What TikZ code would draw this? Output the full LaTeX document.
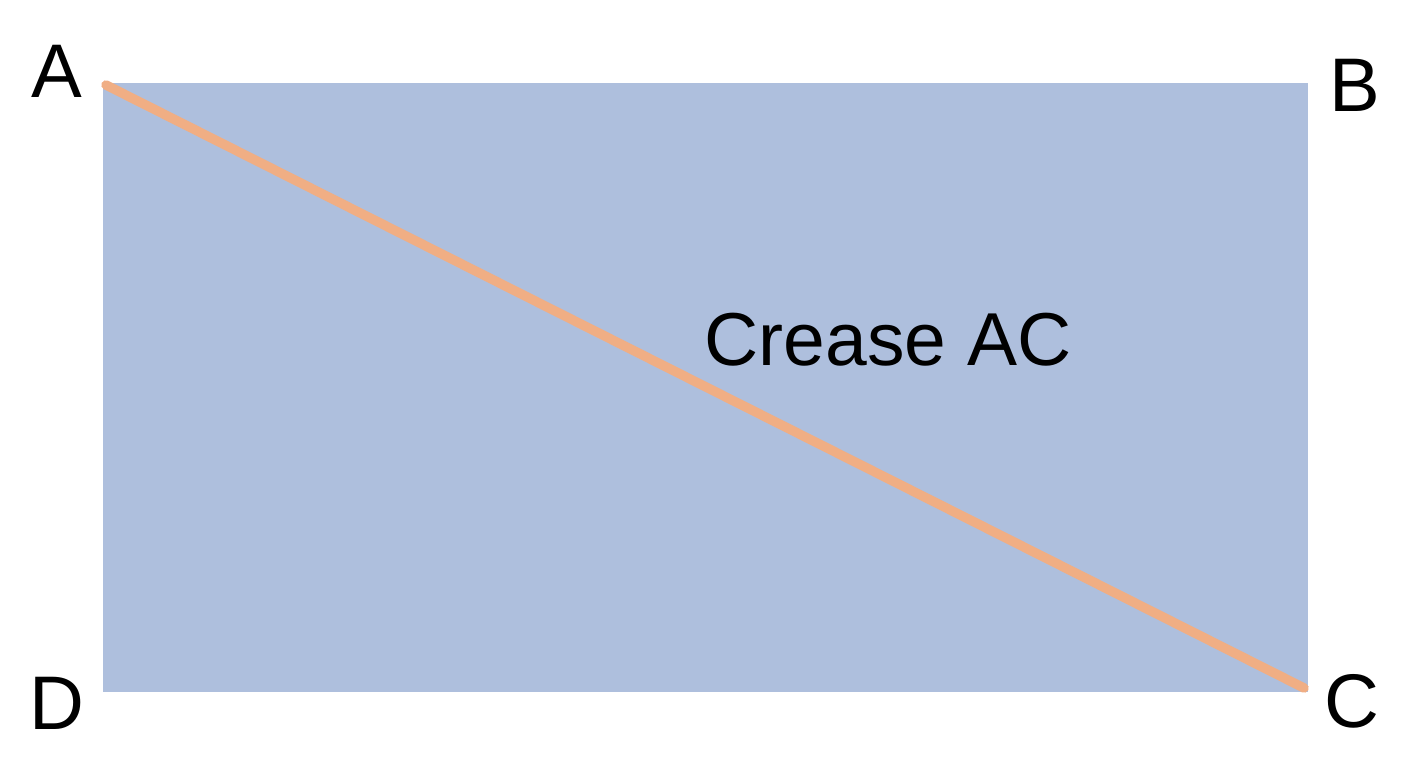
\documentclass[tikz,border=0pt]{standalone}
\usepackage{fontspec}
\setmainfont{Liberation Sans}
\definecolor{paper}{HTML}{AEBFDD}
\definecolor{crease}{HTML}{F0AE84}
\begin{document}
\begin{tikzpicture}[x=1pt,y=-1pt,
  lbl/.style={inner sep=0pt,anchor=base,font=\fontsize{76}{80}\selectfont},
  creaselbl/.style={inner sep=0pt,anchor=base,font=\fontsize{75}{80}\selectfont}]
\useasboundingbox (0,0) rectangle (1408,768);
\fill[paper] (103,83) rectangle (1308,692);
\coordinate (cA) at (106,85);
\coordinate (cC) at (1304,688);
\draw[crease,line width=9.5pt,line cap=round] (cA) -- (cC);
\node[lbl] (lA) at (57,97) {A};
\node[lbl] (lB) at (1355,111) {B};
\node[lbl] (lC) at (1352,727) {C};
\node[lbl] (lD) at (57,729) {D};
\node[creaselbl] (crease) at (888,365) {Crease AC};
\end{tikzpicture}
\end{document}
